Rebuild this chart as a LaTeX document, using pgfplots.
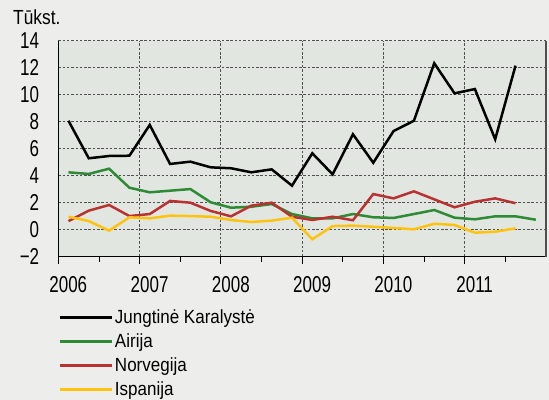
\documentclass[border=0pt]{standalone}
\usepackage{graphicx}
\usepackage{pgfplots}
\pgfplotsset{compat=1.18}
\usepackage{fontspec}
\setmainfont{Liberation Sans}
\definecolor{bgout}{HTML}{EDEDEB}
\definecolor{bgin}{HTML}{E1E6E1}
\definecolor{cgreen}{HTML}{2E8B35}
\definecolor{cred}{HTML}{B83232}
\definecolor{cyellow}{HTML}{FFC20E}
\definecolor{gridc}{HTML}{505050}
\newcommand{\bigf}{\fontsize{17bp}{20bp}\selectfont}
\newcommand{\tl}[1]{\scalebox{1}[1.35]{#1}}
\newcommand{\lgt}[1]{\scalebox{1}[1.12]{#1}}
\begin{document}
\begin{tikzpicture}
\useasboundingbox (0,0) rectangle (549bp,400bp);
\fill[bgout] (0,0) rectangle (549bp,400bp);
\node[anchor=base west, inner sep=0pt, font=\bigf] at (13bp,375.7bp) {\scalebox{1.02}[1.2]{Tūkst.}};
\begin{axis}[
  at={(58.3bp,143.3bp)}, anchor=south west,
  scale only axis, width=487.7bp, height=216bp,
  xmin=2006, xmax=2012, ymin=-2, ymax=14,
  axis background/.style={fill=bgin},
  axis x line*=bottom, axis y line*=left,
  axis line style={black, line width=1.2bp, -},
  xtick={2006,...,2011},
  xticklabels={\tl{2006},\tl{2007},\tl{2008},\tl{2009},\tl{2010},\tl{2011}},
  minor xtick={2006.5,2007.5,2008.5,2009.5,2010.5,2011.5},
  ytick={-2,0,...,14},
  yticklabels={\tl{−2},\tl{0},\tl{2},\tl{4},\tl{6},\tl{8},\tl{10},\tl{12},\tl{14}},
  tick align=outside,
  major tick length=7bp, minor tick length=5bp,
  xtick style={black, line width=0.8bp},
  ytick style={draw=none},
  xmajorgrids, ymajorgrids,
  major grid style={gridc, dash pattern=on 2.5bp off 1.8bp, line width=0.7bp},
  xticklabel style={font=\bigf, anchor=north, inner sep=0pt, xshift=10bp, yshift=-13bp},
  yticklabel style={font=\bigf, anchor=east, inner sep=0pt, xshift=-12bp},
  legend style={at={(axis description cs:0,-0.235)}, anchor=north west,
    draw=none, fill=none, inner sep=0pt, row sep=4.8bp,
    font=\bigf},
  legend cell align=left,
  legend image code/.code={\draw[#1, line width=2.5bp] (0bp,0bp) -- (52bp,0bp);},
  every axis plot/.append style={line width=2.5bp},
  clip=false,
]
\addplot[black] coordinates {
(2006.125,8.07)(2006.375,5.29)(2006.625,5.46)(2006.875,5.48)
(2007.125,7.76)(2007.375,4.87)(2007.625,5.04)(2007.875,4.62)
(2008.125,4.55)(2008.375,4.25)(2008.625,4.47)(2008.875,3.26)
(2009.125,5.66)(2009.375,4.10)(2009.625,7.07)(2009.875,4.96)
(2010.125,7.31)(2010.375,8.07)(2010.625,12.33)(2010.875,10.10)
(2011.125,10.42)(2011.375,6.70)(2011.625,12.15)};
\addlegendentry{\lgt{Jungtinė Karalystė}}
\addplot[cgreen] coordinates {
(2006.125,4.25)(2006.375,4.13)(2006.625,4.52)(2006.875,3.11)
(2007.125,2.77)(2007.375,2.89)(2007.625,3.01)(2007.875,2.03)
(2008.125,1.63)(2008.375,1.70)(2008.625,1.90)(2008.875,1.16)
(2009.125,0.84)(2009.375,0.84)(2009.625,1.16)(2009.875,0.92)
(2010.125,0.87)(2010.375,1.16)(2010.625,1.46)(2010.875,0.89)
(2011.125,0.77)(2011.375,0.99)(2011.625,0.99)(2011.875,0.74)};
\addlegendentry{\lgt{Airija}}
\addplot[cred] coordinates {
(2006.125,0.64)(2006.375,1.41)(2006.625,1.83)(2006.875,1.01)
(2007.125,1.16)(2007.375,2.13)(2007.625,2.00)(2007.875,1.39)
(2008.125,0.99)(2008.375,1.78)(2008.625,2.00)(2008.875,0.96)
(2009.125,0.72)(2009.375,0.96)(2009.625,0.70)(2009.875,2.64)
(2010.125,2.32)(2010.375,2.84)(2010.625,2.25)(2010.875,1.66)
(2011.125,2.07)(2011.375,2.32)(2011.625,1.96)};
\addlegendentry{\lgt{Norvegija}}
\addplot[cyellow] coordinates {
(2006.125,0.96)(2006.375,0.64)(2006.625,-0.07)(2006.875,0.92)
(2007.125,0.84)(2007.375,1.04)(2007.625,1.01)(2007.875,0.96)
(2008.125,0.72)(2008.375,0.57)(2008.625,0.67)(2008.875,0.89)
(2009.125,-0.71)(2009.375,0.27)(2009.625,0.30)(2009.875,0.22)
(2010.125,0.13)(2010.375,0.03)(2010.625,0.44)(2010.875,0.35)
(2011.125,-0.22)(2011.375,-0.15)(2011.625,0.10)};
\addlegendentry{\lgt{Ispanija}}
\draw[gridc, line width=1.5bp] (rel axis cs:1,0) -- (rel axis cs:1,1);
\end{axis}
\end{tikzpicture}
\end{document}
